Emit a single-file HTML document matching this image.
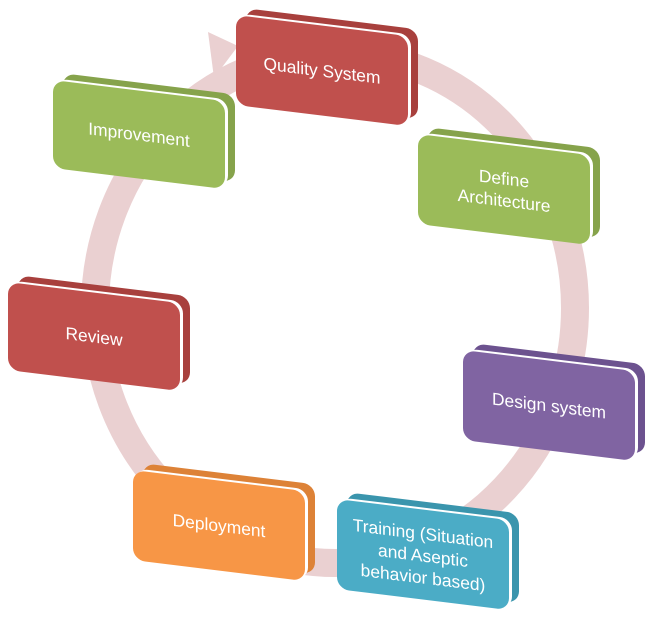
<!DOCTYPE html>
<html><head><style>html,body{margin:0;padding:0;background:#fff}</style></head>
<body>
<svg width="657" height="618" xmlns="http://www.w3.org/2000/svg" style="display:block;font-family:'Liberation Sans',sans-serif">
<ellipse cx="335" cy="308" rx="240" ry="255" fill="none" stroke="#ead0d1" stroke-width="28"/>
<polygon points="208,32 238,46 214,78" fill="#ead0d1"/>
<g font-size="17.4" fill="#fff" text-anchor="middle">
<g transform="translate(236,15) skewY(7)">
 <rect x="10" y="-8" width="172" height="90" rx="12" fill="#a8403d"/>
 <rect x="3" y="-2" width="172" height="90" rx="12" fill="#fff"/>
 <rect x="0" y="0" width="172" height="90" rx="12" fill="#c0504d"/>
 <text x="86" y="51">Quality System</text></g>
<g transform="translate(53,80) skewY(7)">
 <rect x="10" y="-8" width="172" height="88" rx="12" fill="#86a34b"/>
 <rect x="3" y="-2" width="172" height="88" rx="12" fill="#fff"/>
 <rect x="0" y="0" width="172" height="88" rx="12" fill="#9bbb59"/>
 <text x="86" y="50">Improvement</text></g>
<g transform="translate(418,134) skewY(7)">
 <rect x="10" y="-8" width="172" height="90" rx="12" fill="#86a34b"/>
 <rect x="3" y="-2" width="172" height="90" rx="12" fill="#fff"/>
 <rect x="0" y="0" width="172" height="90" rx="12" fill="#9bbb59"/>
 <text x="86" y="40">Define</text><text x="86" y="62">Architecture</text></g>
<g transform="translate(8,282) skewY(7)">
 <rect x="10" y="-8" width="172" height="88" rx="12" fill="#a8403d"/>
 <rect x="3" y="-2" width="172" height="88" rx="12" fill="#fff"/>
 <rect x="0" y="0" width="172" height="88" rx="12" fill="#c0504d"/>
 <text x="86" y="50">Review</text></g>
<g transform="translate(463,350) skewY(7)">
 <rect x="10" y="-8" width="172" height="90" rx="12" fill="#6c528f"/>
 <rect x="3" y="-2" width="172" height="90" rx="12" fill="#fff"/>
 <rect x="0" y="0" width="172" height="90" rx="12" fill="#8064a2"/>
 <text x="86" y="51">Design system</text></g>
<g transform="translate(133,470) skewY(7)">
 <rect x="10" y="-8" width="172" height="90" rx="12" fill="#dd8237"/>
 <rect x="3" y="-2" width="172" height="90" rx="12" fill="#fff"/>
 <rect x="0" y="0" width="172" height="90" rx="12" fill="#f79646"/>
 <text x="86" y="51">Deployment</text></g>
<g transform="translate(337,499) skewY(7)">
 <rect x="10" y="-8" width="172" height="90" rx="12" fill="#3a95ad"/>
 <rect x="3" y="-2" width="172" height="90" rx="12" fill="#fff"/>
 <rect x="0" y="0" width="172" height="90" rx="12" fill="#4bacc6"/>
 <text x="86" y="30">Training (Situation</text><text x="86" y="52">and Aseptic</text><text x="86" y="74">behavior based)</text></g>
</g>
</svg>
</body></html>
